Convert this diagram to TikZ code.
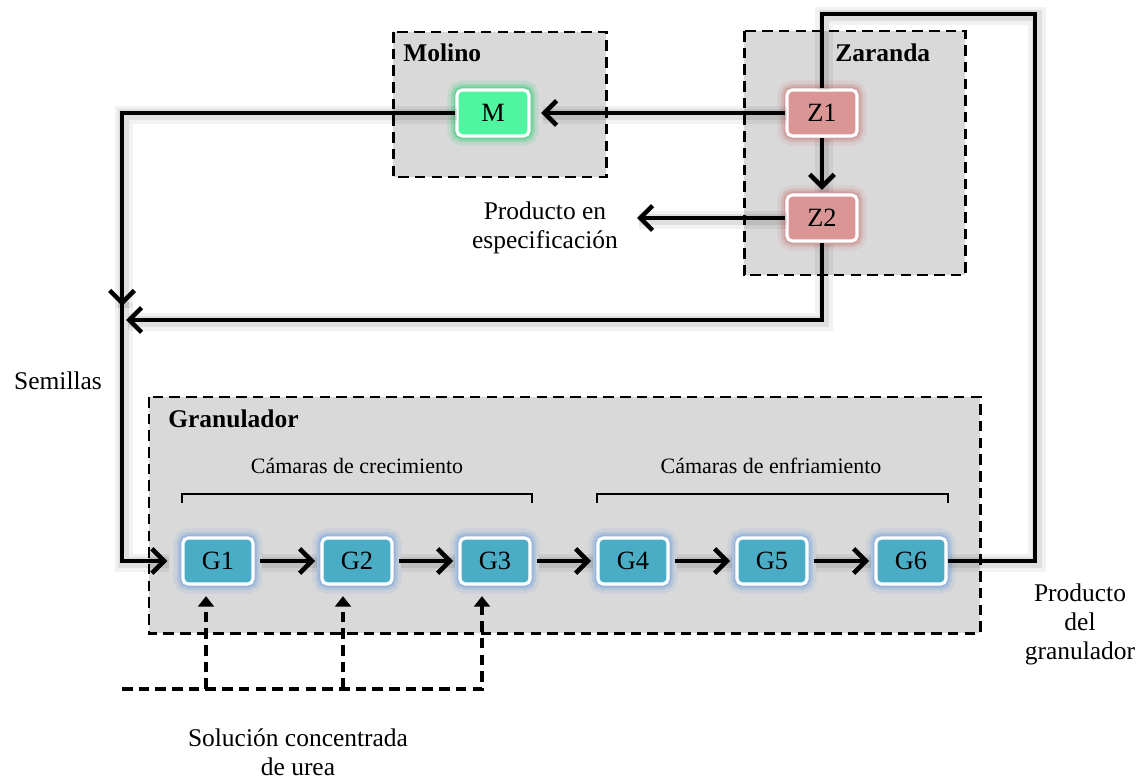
\documentclass[tikz,border=0pt]{standalone}
\usepackage{fontspec}
\setmainfont{Liberation Serif}
\usetikzlibrary{arrows.meta,calc}
\definecolor{boxgray}{HTML}{D9D9D9}
\definecolor{gfill}{HTML}{4BACC6}
\definecolor{gglow}{HTML}{7FA7DA}
\definecolor{zfill}{HTML}{D99694}
\definecolor{zglow}{HTML}{C98A88}
\definecolor{mfill}{HTML}{50F5A0}
\definecolor{mglow}{HTML}{3FCF80}
\tikzset{
  area/.style={draw=black, fill=boxgray, line width=1.7pt, dash pattern=on 6pt off 3.5pt},
  unit/.style={draw=white, line width=1.8pt, rounded corners=3pt, minimum width=1.4cm,
    minimum height=0.92cm, inner sep=0pt, font=\fontsize{15}{17}\selectfont},
  glow/.style={preaction={draw=#1, line width=11pt, opacity=0.15},
               preaction={draw=#1, line width=7pt, opacity=0.3},
               preaction={draw=#1, line width=4pt, opacity=0.5}},
  gunit/.style={unit, fill=gfill, glow=gglow},
  zunit/.style={unit, fill=zfill, glow=zglow},
  munit/.style={unit, fill=mfill, glow=mglow, minimum width=1.44cm},
  conn/.style={draw=black, line width=2.6pt,
    preaction={draw=black, -, line width=10pt, opacity=0.05,
      transform canvas={xshift=1pt,yshift=-1pt}},
    preaction={draw=black, -, line width=6pt, opacity=0.08,
      transform canvas={xshift=1pt,yshift=-1pt}}},
  arr/.style={-{Straight Barb[length=7pt,width=14pt,line width=2.6pt]}},
  feed/.style={draw=black, line width=1.9pt, dash pattern=on 6pt off 3.5pt},
  tri/.style={-{Triangle[length=6pt,width=9pt]}},
  lbl/.style={font=\fontsize{14.5}{16.5}\selectfont, align=center, inner sep=0pt},
  hdr/.style={font=\fontsize{14.5}{17}\selectfont\bfseries, inner sep=0pt, anchor=west},
  sub/.style={font=\fontsize{12.5}{15}\selectfont, inner sep=0pt},
}
\begin{document}
\begin{tikzpicture}[x=0.02cm,y=-0.02cm]
\useasboundingbox (0,0) rectangle (1141,780);
% areas
\draw[area] (393,32) rectangle (606,177);
\draw[area] (744,31) rectangle (965,275);
\draw[area] (149,397) rectangle (980,633);
\node[hdr] (tMol) at (403,53) {Molino};
\node[hdr] (tZar) at (835,53) {Zaranda};
\node[hdr] (tGra) at (168,419) {Granulador};
\node[sub] (tCre) at (357,466) {Cámaras de crecimiento};
\node[sub] (tEnf) at (771,466) {Cámaras de enfriamiento};
% brackets
\draw[line width=1.3pt] (182,503) -- (182,494) -- (532,494) -- (532,503);
\draw[line width=1.3pt] (597,503) -- (597,494) -- (948,494) -- (948,503);
% units
\node[munit] (M) at (493,113) {M};
\node[zunit] (Z1) at (822,113) {Z1};
\node[zunit] (Z2) at (822,218) {Z2};
\node[gunit] (G1) at (218,561) {G1};
\node[gunit] (G2) at (357,561) {G2};
\node[gunit] (G3) at (495,561) {G3};
\node[gunit] (G4) at (633,561) {G4};
\node[gunit] (G5) at (772,561) {G5};
\node[gunit] (G6) at (911,561) {G6};
% labels
\node[lbl] (tSem) at (58,381) {Semillas};
\node[lbl] (tEsp) at (545,228) {Producto en\\especificación};
\node[lbl] (tPro) at (1080,624) {Producto\\del\\granulador};
\node[lbl] (tSol) at (298,752) {Solución concentrada\\de urea};
% coordinates
\coordinate (jdown) at (122,306);
\coordinate (jleft) at (126,320);
\coordinate (jtop) at (122,300);
\coordinate (ret) at (1035,14);
\coordinate (esp) at (637,218);
\coordinate (u0) at (122,689);
\coordinate (f1) at (206,689);
\coordinate (f2) at (343,689);
% connectors
\draw[conn,arr,shorten >=6pt] (Z1.west) -- (M.east);
\draw[conn,arr,shorten >=2pt] (Z1.south) -- (Z2.north);
\draw[conn,arr] (Z2.west) -- (esp);
\draw[conn,arr,shorten >=8pt] (jtop) |- (G1.west);
\draw[conn,arr] (M.west) -| (jdown);
\draw[conn,arr] (Z2.south) |- (jleft);
\draw[conn] (G6.east) -| (ret) -| (Z1.north);
\foreach \a/\b in {G1/G2,G2/G3,G3/G4,G4/G5,G5/G6}
  \draw[conn,arr,shorten >=3pt,shorten <=3pt] (\a.east) -- (\b.west);
% feed (dashed)
\draw[feed,tri,shorten >=6pt] (u0) -| ($(G3.south)+(-13,0)$);
\draw[feed,tri,shorten >=6pt] (f1) -- (f1 |- G1.south);
\draw[feed,tri,shorten >=6pt] (f2) -- (f2 |- G2.south);
\end{tikzpicture}
\end{document}
